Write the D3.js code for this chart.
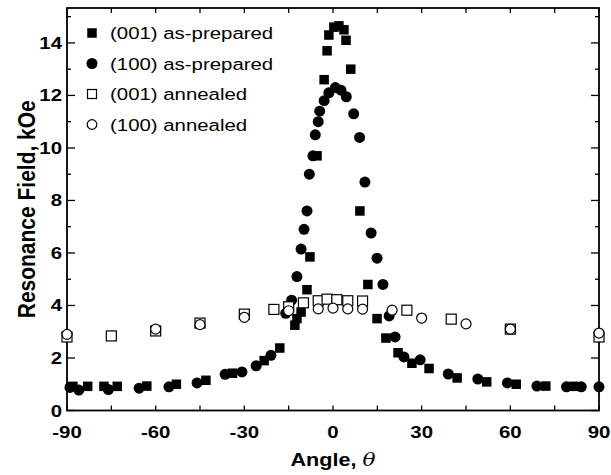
<!DOCTYPE html>
<html>
<head>
<meta charset="utf-8">
<script src="https://cdn.jsdelivr.net/npm/d3@7"></script>
<style>
  body { margin: 0; background: #fff; }
  svg { display: block; }
  text { font-family: "Liberation Sans", Arial, Helvetica, sans-serif; fill: #000; }
</style>
</head>
<body>
<svg id="chart" width="611" height="475"></svg>
<script>
// data: [angle (deg), resonance field (kOe)]
var asPrep001 = [
    [-88, 0.92], [-83, 0.92], [-77.5, 0.92], [-73, 0.92], [-63, 0.93], [-53, 1.0], [-43, 1.15],
    [-34, 1.42], [-23.3, 1.9], [-18, 2.38], [-12.9, 3.25], [-12.2, 3.5], [-10.8, 3.75],
    [-8.8, 4.6], [-7.8, 5.85], [-5.4, 9.7], [-3, 12.6], [-2, 13.7], [-1.4, 14.3], [0.3, 14.6],
    [2, 14.65], [3.7, 14.5], [4.4, 14.1], [6, 13.0], [9.1, 7.6], [11.8, 4.8], [14.9, 3.5],
    [17.9, 2.76], [22, 2.2], [26.7, 1.8], [32.5, 1.6], [42, 1.24], [52, 1.09], [62, 1.0],
    [72, 0.93], [81.5, 0.92]
];
var asPrep100 = [
    [-89, 0.88], [-86, 0.78], [-76, 0.8], [-65.6, 0.85], [-55.5, 0.9], [-46, 1.05], [-36.5, 1.38],
    [-30.8, 1.47], [-26, 1.7], [-21, 2.1], [-16, 3.7], [-14, 4.2], [-12.2, 5.1], [-10.8, 6.15],
    [-9.8, 6.9], [-8.8, 7.6], [-8, 9.0], [-6.8, 9.7], [-6, 10.5], [-5, 11.0], [-4.5, 11.4],
    [-3, 11.8], [-1.4, 12.1], [0.8, 12.3], [2.7, 12.2], [4.5, 11.95], [7, 11.3], [9, 10.4],
    [10.8, 8.7], [12.9, 6.76], [14.9, 5.8], [16.9, 4.8], [19, 3.6], [21, 2.8], [24, 2.04],
    [29.5, 1.93], [39, 1.39], [49, 1.2], [59, 1.05], [69, 0.93], [79, 0.9], [84, 0.9], [90, 0.9]
];
var annealed001 = [
    [-90, 2.8], [-75, 2.84], [-60, 3.03], [-45, 3.33], [-30, 3.67], [-20, 3.85], [-15, 3.95],
    [-10, 4.1], [-5, 4.18], [-2, 4.24], [1.3, 4.22], [5, 4.18], [10, 4.17], [25, 3.82],
    [40, 3.48], [60, 3.1], [90, 2.8]
];
var annealed100 = [
    [-90, 2.9], [-60, 3.1], [-45, 3.27], [-30, 3.55], [-15, 3.8], [-5, 3.87], [0, 3.9],
    [5, 3.87], [10, 3.86], [20, 3.82], [30, 3.52], [45, 3.3], [60, 3.1], [90, 2.95]
];
var seriesNames = ["(001) as-prepared", "(100) as-prepared", "(001) annealed", "(100) annealed"];
var xTickLabels = [-90, -60, -30, 0, 30, 60, 90];
var yTickLabels = [0, 2, 4, 6, 8, 10, 12, 14];

var svg = d3.select('#chart');
var plotL = 67, plotR = 599, plotT = 8, plotB = 410.5;
var stretch = 1.2; // glyphs in the figure are wider than Arial

var x = d3.scaleLinear().domain([-90, 90]).range([plotL, plotR]);
var y = d3.scaleLinear().domain([0, 15.33]).range([plotB, plotT]);

// ticks (inward, on all four sides)
var xMinor = d3.range(-90, 91, 15);
var yAll = d3.range(0, 16, 1);
var tickG = svg.append('g').attr('stroke', '#000').attr('stroke-width', 1.3);
xMinor.forEach(function(v) {
    tickG.append('line').attr('x1', x(v)).attr('x2', x(v)).attr('y1', plotB).attr('y2', plotB - 5);
    tickG.append('line').attr('x1', x(v)).attr('x2', x(v)).attr('y1', plotT).attr('y2', plotT + 5);
});
yAll.forEach(function(v) {
    var len = v % 2 === 0 ? 8 : 4;
    tickG.append('line').attr('x1', plotL).attr('x2', plotL + len).attr('y1', y(v)).attr('y2', y(v));
    tickG.append('line').attr('x1', plotR).attr('x2', plotR - len).attr('y1', y(v)).attr('y2', y(v));
});

// frame
svg.append('rect')
    .attr('x', plotL).attr('y', plotT)
    .attr('width', plotR - plotL).attr('height', plotB - plotT)
    .attr('fill', 'none').attr('stroke', '#000').attr('stroke-width', 1.8);

// stretched text helper
function label(px, py, str, size, anchor, weight) {
    var g = svg.append('g').attr('transform', 'translate(' + px + ',' + py + ')');
    return g.append('text')
        .attr('transform', 'scale(' + stretch + ',1)')
        .attr('text-anchor', anchor)
        .style('font-size', size + 'px')
        .style('font-weight', weight)
        .text(str);
}

xTickLabels.forEach(function(v) {
    label(x(v), 438, v, 17, 'middle', 'bold');
});
yTickLabels.forEach(function(v) {
    label(62, y(v) + 6, v, 17, 'end', 'bold');
});

// axis titles
var xt = label((plotL + plotR) / 2, 466, 'Angle, ', 18, 'middle', 'bold');
xt.append('tspan').style('font-style', 'italic').style('font-weight', 'normal')
    .style('font-family', '"DejaVu Serif", serif').text('\u03b8');

svg.append('g')
    .attr('transform', 'translate(35,' + ((plotT + plotB) / 2) + ') scale(1.15,1) rotate(-90)')
    .append('text')
    .attr('text-anchor', 'middle')
    .style('font-size', '21px')
    .style('font-weight', 'bold')
    .text('Resonance Field, kOe');

// markers
function squares(data, size, filled) {
    svg.append('g').selectAll('rect')
        .data(data)
        .enter().append('rect')
        .attr('x', function(d) { return x(d[0]) - size / 2; })
        .attr('y', function(d) { return y(d[1]) - size / 2; })
        .attr('width', size).attr('height', size)
        .attr('fill', filled ? '#000' : '#fff')
        .attr('stroke', '#000')
        .attr('stroke-width', filled ? 0 : 1.2);
}
function circles(data, r, filled) {
    svg.append('g').selectAll('circle')
        .data(data)
        .enter().append('circle')
        .attr('cx', function(d) { return x(d[0]); })
        .attr('cy', function(d) { return y(d[1]); })
        .attr('r', r)
        .attr('fill', filled ? '#000' : '#fff')
        .attr('stroke', '#000')
        .attr('stroke-width', filled ? 0 : 1.2);
}
squares(asPrep001, 9.5, true);
circles(asPrep100, 5.5, true);
squares(annealed001, 10, false);
circles(annealed100, 5, false);

// legend
var legY = [33, 63.5, 94, 124.5];
var lg = svg.append('g');
lg.append('rect').attr('x', 92 - 4.75).attr('y', legY[0] - 4.75).attr('width', 9.5).attr('height', 9.5).attr('fill', '#000');
lg.append('circle').attr('cx', 92).attr('cy', legY[1]).attr('r', 5.5).attr('fill', '#000');
lg.append('rect').attr('x', 92 - 4.5).attr('y', legY[2] - 4.5).attr('width', 9).attr('height', 9)
    .attr('fill', '#fff').attr('stroke', '#000').attr('stroke-width', 1.2);
lg.append('circle').attr('cx', 92).attr('cy', legY[3]).attr('r', 4.8)
    .attr('fill', '#fff').attr('stroke', '#000').attr('stroke-width', 1.2);
seriesNames.forEach(function(name, i) {
    label(110, legY[i] + 6, name, 17, 'start', 'normal');
});
</script>
</body>
</html>
